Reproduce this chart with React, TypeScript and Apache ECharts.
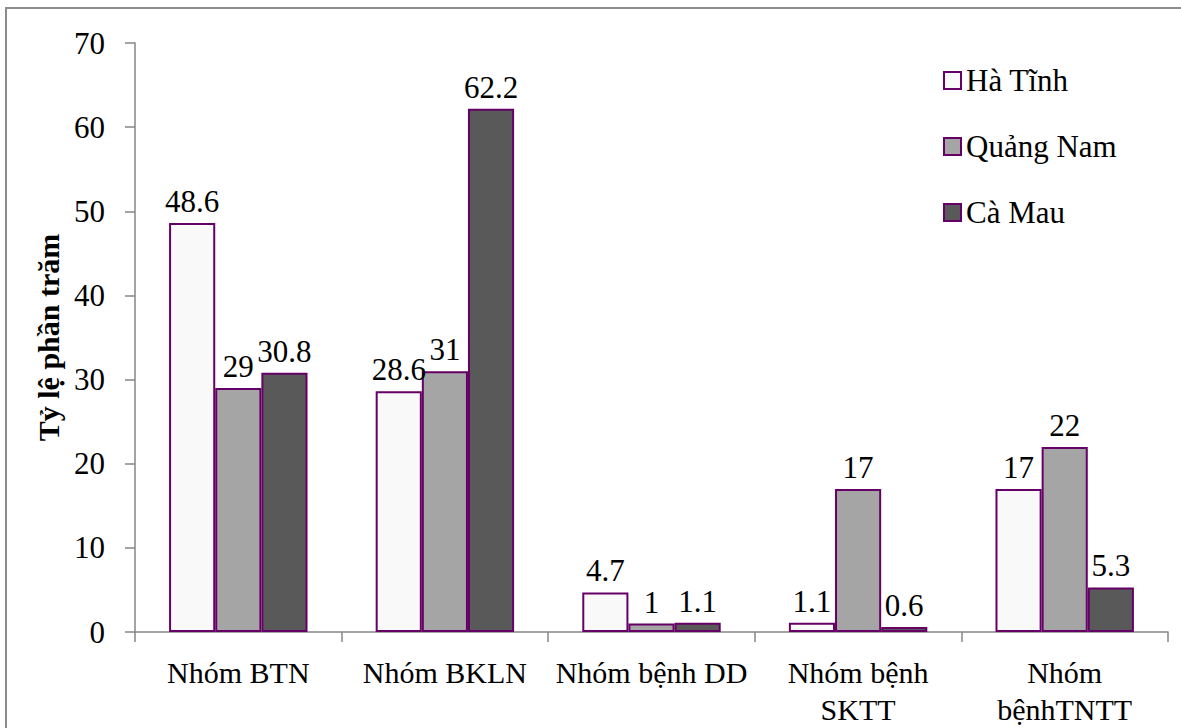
import React, { useEffect, useRef } from "react";
import * as echarts from "echarts";

// Disease groups on the category axis
const categories = [
  "Nhóm BTN",
  "Nhóm BKLN",
  "Nhóm bệnh DD",
  "Nhóm bệnh\nSKTT",
  "Nhóm\nbệnhTNTT",
];

// Percentages per province
const haTinh = [48.6, 28.6, 4.7, 1.1, 17];
const quangNam = [29, 31, 1, 17, 22];
const caMau = [30.8, 62.2, 1.1, 0.6, 5.3];

const seriesNames = ["Hà Tĩnh", "Quảng Nam", "Cà Mau"];
const yTicks = { min: 0, max: 70, interval: 10 };

const SERIF = "Times New Roman";
const BORDER = "#660066";
const AXIS = "#868686";

export default function App() {
  const ref = useRef<HTMLDivElement>(null);

  useEffect(() => {
    if (!ref.current) return;
    const chart = echarts.init(ref.current, undefined, { renderer: "svg" });

    const fills = ["#f9f9f9", "#a5a5a5", "#595959"];
    const data = [haTinh, quangNam, caMau];

    chart.setOption({
      animation: false,
      backgroundColor: "#ffffff",
      textStyle: { fontFamily: SERIF },
      graphic: [
        {
          type: "rect",
          shape: { x: 6, y: 8, width: 1300, height: 900 },
          style: { fill: "none", stroke: "#8c8c8c", lineWidth: 2 },
          silent: true,
          z: -1,
        },
      ],
      grid: { left: 135, right: 13, top: 43, bottom: 95 },
      legend: {
        orient: "vertical",
        left: 938,
        top: 60,
        icon: "rect",
        itemWidth: 17,
        itemHeight: 17,
        itemGap: 35,
        data: seriesNames,
        textStyle: {
          fontFamily: SERIF,
          fontSize: 31,
          color: "#000",
          lineHeight: 30,
        },
      },
      xAxis: {
        type: "category",
        data: categories,
        axisLine: { lineStyle: { color: AXIS, width: 1.5 } },
        axisTick: { show: true, length: 10, lineStyle: { color: AXIS, width: 1.5 } },
        axisLabel: {
          interval: 0,
          margin: 22,
          fontFamily: SERIF,
          fontSize: 30,
          lineHeight: 37,
          color: "#000",
        },
      },
      yAxis: {
        type: "value",
        min: yTicks.min,
        max: yTicks.max,
        interval: yTicks.interval,
        name: "Tỷ lệ phần trăm",
        nameLocation: "middle",
        nameRotate: 90,
        nameGap: 68,
        nameTextStyle: {
          fontFamily: SERIF,
          fontSize: 30,
          fontWeight: "bold",
          color: "#000",
        },
        splitLine: { show: false },
        axisLine: { show: true, lineStyle: { color: AXIS, width: 1.5 } },
        axisTick: { show: true, length: 10, lineStyle: { color: AXIS, width: 1.5 } },
        axisLabel: {
          margin: 30,
          fontFamily: SERIF,
          fontSize: 31,
          color: "#000",
        },
      },
      series: seriesNames.map((name, i) => ({
        name,
        type: "bar",
        data: data[i],
        barGap: "0%",
        barCategoryGap: "33%",
        itemStyle: { color: fills[i], borderColor: BORDER, borderWidth: 2 },
        label: {
          show: true,
          position: "top",
          distance: 6,
          fontFamily: SERIF,
          fontSize: 31,
          color: "#000",
        },
      })),
    });

    return () => chart.dispose();
  }, []);

  return (
    <div
      ref={ref}
      style={{ position: "fixed", left: 0, top: 0, width: 1181, height: 728 }}
    />
  );
}
